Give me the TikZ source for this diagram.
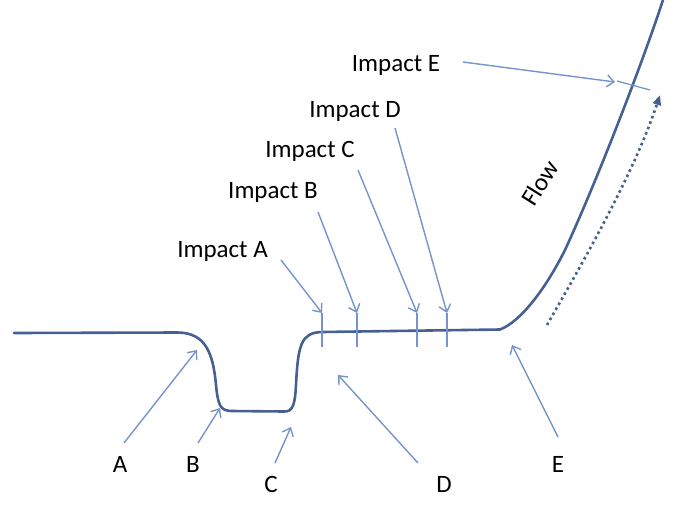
\documentclass[tikz,border=0pt]{standalone}
\usepackage{fontspec}
\setmainfont{Carlito}
\usetikzlibrary{arrows.meta}
\definecolor{mainc}{RGB}{70,96,145}
\definecolor{arrowc}{RGB}{118,148,204}
\tikzset{
  lbl/.style={anchor=base, inner sep=0pt, font=\fontsize{25}{30}\selectfont},
  pointer/.style={draw=arrowc, line width=1.4pt, -{Straight Barb[length=7pt,width=12pt,line width=1.4pt]}},
  tickmark/.style={draw=arrowc, line width=1.8pt},
  profile/.style={draw=mainc, line width=2.6pt, line cap=round, line join=round},
  flowarrow/.style={draw=mainc, line width=2.6pt, dash pattern=on 2.6pt off 3.2pt, -{Triangle[length=10pt,width=8pt]}}
}
\begin{document}
\begin{tikzpicture}[x=1pt,y=-1pt]
\useasboundingbox (0,0) rectangle (684,511);
% main profile
\draw[profile] (14,333) -- (178,332.5)
  .. controls (205,333) and (213,352) .. (216,385)
  .. controls (218,405) and (220,411) .. (232,411)
  -- (284,411.5)
  .. controls (293,412) and (295,404) .. (296,385)
  .. controls (298,345) and (301,332.5) .. (322,332)
  -- (500,329.5)
  .. controls (520,322) and (545,290) .. (565,250)
  .. controls (595,185) and (640,70) .. (663,0);
% ticks on the flat part
\foreach \tx/\tn in {322/ta,357/tb,417/tc,447/td}{
  \coordinate (\tn top) at (\tx,313);
  \coordinate (\tn bot) at (\tx,347);
  \draw[tickmark] (\tn top) -- (\tn bot);
}
% tick across the rising part
\coordinate (te1) at (617,81);
\coordinate (te2) at (650,90);
\draw[draw=arrowc, line width=1.3pt] (te1) -- (te2);
% flow arrow
\coordinate (fl1) at (547,325);
\coordinate (fl2) at (660,95);
\draw[flowarrow] (fl1) .. controls (590,250) and (635,170) .. (fl2);
\node[lbl, rotate=58, anchor=center] (flow) at (540,183) {Flow};
% impact labels
\node[lbl] (iA) at (222.5,257) {Impact A};
\node[lbl] (iB) at (273,198) {Impact B};
\node[lbl] (iC) at (310,157) {Impact C};
\node[lbl] (iD) at (355,117) {Impact D};
\node[lbl] (iE) at (396,71) {Impact E};
\coordinate (sA) at (281,260);
\coordinate (sB) at (318,212);
\coordinate (sC) at (358,170);
\coordinate (sD) at (395,128);
\coordinate (sE) at (463,62);
\coordinate (eE) at (615,82);
\draw[pointer] (sA) -- (tatop);
\draw[pointer] (sB) -- (tbtop);
\draw[pointer] (sC) -- (tctop);
\draw[pointer] (sD) -- (tdtop);
\draw[pointer] (sE) -- (eE);
% bottom labels
\node[lbl] (lA) at (120,472) {A};
\node[lbl] (lB) at (193,472) {B};
\node[lbl] (lC) at (271,492) {C};
\node[lbl] (lD) at (444,492) {D};
\node[lbl] (lE) at (558,472) {E};
\coordinate (aA1) at (124,443); \coordinate (aA2) at (197,350);
\coordinate (aB1) at (198,443); \coordinate (aB2) at (220,408);
\coordinate (aC1) at (275,463); \coordinate (aC2) at (291,427);
\coordinate (aD1) at (418,463); \coordinate (aD2) at (338,375);
\coordinate (aE1) at (558,437); \coordinate (aE2) at (512,345);
\draw[pointer] (aA1) -- (aA2);
\draw[pointer] (aB1) -- (aB2);
\draw[pointer] (aC1) -- (aC2);
\draw[pointer] (aD1) -- (aD2);
\draw[pointer] (aE1) -- (aE2);
\end{tikzpicture}
\end{document}
